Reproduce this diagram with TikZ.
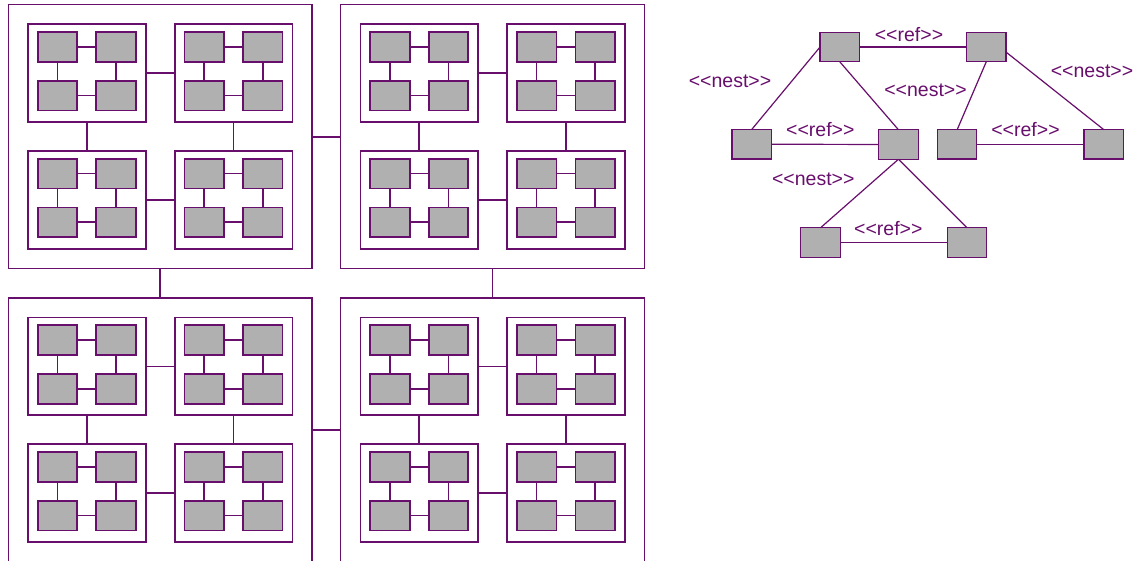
\documentclass[tikz,border=0pt]{standalone}
\usepackage{fontspec}
\newfontfamily\lblfont{Liberation Sans}
\definecolor{pl}{RGB}{104,14,108}
\definecolor{gr}{RGB}{176,176,176}
\newcommand\lbnest{<\kern0pt<nest>\kern0pt>}
\newcommand\lbref{<\kern0pt<ref>\kern0pt>}
\tikzset{
  bigbox/.style={draw=pl, line width=1.5pt, minimum width=303.7pt, minimum height=264pt, inner sep=0pt, outer sep=0pt, anchor=north west},
  medbox/.style={draw=pl, line width=1.7pt, minimum width=117.7pt, minimum height=97.7pt, inner sep=0pt, outer sep=0pt, anchor=north west},
  smallbox/.style={draw=pl, fill=gr, line width=1.7pt, minimum width=39.6pt, minimum height=29.7pt, inner sep=0pt, outer sep=0pt, anchor=north west},
  gnode/.style={draw=pl, fill=gr, line width=1.2pt, minimum width=39.3pt, minimum height=29.4pt, inner sep=0pt, outer sep=0pt},
  conn/.style={draw=pl, line width=1.6pt},
  gconn/.style={draw=pl, line width=1.2pt},
  lbl/.style={text=pl, font=\lblfont\fontsize{19.5}{20}\selectfont, inner sep=0pt}
}
\begin{document}
\begin{tikzpicture}[x=1pt,y=-1pt]
\useasboundingbox (0,0) rectangle (1135,560);
\clip (0,0) rectangle (1135,560);
% nested blocks
\foreach \i in {0,1}{
 \foreach \j in {0,1}{
  \pgfmathsetmacro\bx{8.3+332.4*\i}
  \pgfmathsetmacro\by{4.7+293.3*\j}
  \node[bigbox] (b\i\j) at (\bx,\by) {};
  \foreach \k/\ox in {0/19.7,1/166.4}{
   \foreach \l/\oy in {0/19.6,1/146.3}{
    \pgfmathsetmacro\mx{\bx+\ox}
    \pgfmathsetmacro\my{\by+\oy}
    \node[medbox] (b\i\j m\k\l) at (\mx,\my) {};
    \foreach \p/\sx in {0/9.7,1/68.3}{
     \foreach \q/\sy in {0/7.7,1/56.4}{
      \node[smallbox] (b\i\j m\k\l s\p\q) at (\mx+\sx,\my+\sy) {};
     }
    }
    \draw[conn] (b\i\j m\k\l s00) -- (b\i\j m\k\l s10);
    \draw[conn] (b\i\j m\k\l s01) -- (b\i\j m\k\l s11);
    \draw[conn] (b\i\j m\k\l s00) -- (b\i\j m\k\l s01);
    \draw[conn] (b\i\j m\k\l s10) -- (b\i\j m\k\l s11);
   }
  }
  \draw[conn] (b\i\j m00) -- (b\i\j m10);
  \draw[conn] (b\i\j m01) -- (b\i\j m11);
  \draw[conn] (b\i\j m00) -- (b\i\j m01);
  \draw[conn] (b\i\j m10) -- (b\i\j m11);
 }
}
\draw[conn] (b00) -- (b10);
\draw[conn] (b01) -- (b11);
\draw[conn] (b00) -- (b01);
\draw[conn] (b10) -- (b11);
% graph
\node[gnode] (A) at (839.7,47) {};
\node[gnode] (B) at (986.3,47) {};
\node[gnode] (C) at (751.7,144.2) {};
\node[gnode] (D) at (898.5,144.5) {};
\node[gnode] (E) at (957.2,144.3) {};
\node[gnode] (F) at (1103.7,144.3) {};
\node[gnode] (G) at (820.5,242.5) {};
\node[gnode] (H) at (967,242.5) {};
\draw[gconn] (A) -- (B);
\draw[gconn] (A.west) -- (C.north);
\draw[gconn] (A.south) -- (D.north);
\draw[gconn] (B.south) -- (E.north);
\draw[gconn] ([yshift=-5pt]B.east) -- (F.north);
\draw[gconn] (C) -- (D);
\draw[gconn] (E) -- (F);
\draw[gconn] (D.south) -- (G.north);
\draw[gconn] (D.south) -- (H.north);
\draw[gconn] (G) -- (H);
\node[lbl] (l1) at (909,35) {\lbref};
\node[lbl] (l2) at (730,81.7) {\lbnest};
\node[lbl] (l3) at (925.5,90.7) {\lbnest};
\node[lbl] (l4) at (1092,71.7) {\lbnest};
\node[lbl] (l5) at (820.3,130) {\lbref};
\node[lbl] (l6) at (1025.5,130) {\lbref};
\node[lbl] (l7) at (813.3,179.3) {\lbnest};
\node[lbl] (l8) at (888.3,228.3) {\lbref};
\end{tikzpicture}
\end{document}
